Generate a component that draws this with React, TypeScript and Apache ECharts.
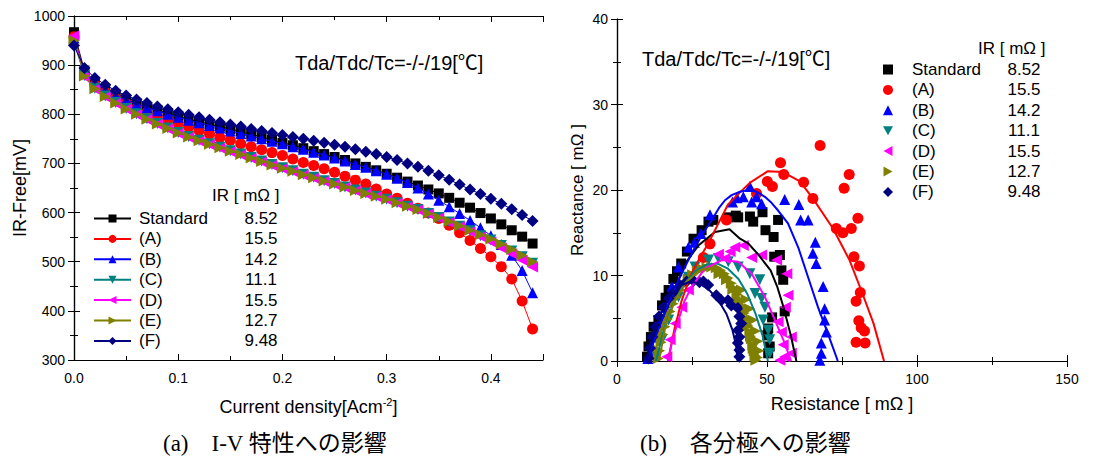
import React, { useEffect, useRef } from "react";
import * as echarts from "echarts";

// ---------- data: (a) I-V ----------
const currentDensity = [
  0, 0.01, 0.02, 0.03, 0.04, 0.05, 0.06, 0.07, 0.08, 0.09,
  0.1, 0.11, 0.12, 0.13, 0.14, 0.15, 0.16, 0.17, 0.18, 0.19,
  0.2, 0.21, 0.22, 0.23, 0.24, 0.25, 0.26, 0.27, 0.28, 0.29,
  0.3, 0.31, 0.32, 0.33, 0.34, 0.35, 0.36, 0.37, 0.38, 0.39,
  0.4, 0.41, 0.42, 0.43, 0.44,
];
const ivStandard = [967, 889, 866, 851, 840, 830, 822, 815, 808, 802, 796, 790, 785, 780, 775, 770, 765, 759, 754, 748, 742, 737, 731, 725, 719, 713, 707, 700, 693, 686, 679, 671, 663, 655, 647, 639, 630, 620, 610, 599, 588, 576, 564, 551, 537];
const ivA = [958, 884, 860, 845, 832, 822, 812, 804, 796, 788, 781, 774, 767, 760, 753, 747, 740, 734, 728, 722, 716, 709, 702, 696, 689, 682, 674, 666, 658, 648, 638, 629, 619, 609, 599, 588, 574, 559, 543, 527, 510, 490, 465, 420, 363];
const ivB = [955, 886, 864, 850, 838, 829, 821, 814, 807, 800, 794, 788, 783, 777, 772, 766, 761, 756, 750, 745, 740, 734, 729, 723, 717, 711, 705, 698, 692, 685, 678, 670, 661, 650, 638, 625, 612, 598, 584, 569, 553, 535, 513, 482, 437];
const ivC = [945, 879, 853, 837, 824, 812, 801, 791, 781, 772, 763, 755, 747, 740, 733, 726, 719, 712, 705, 698, 691, 685, 678, 672, 665, 659, 652, 646, 640, 633, 627, 620, 613, 606, 598, 590, 581, 572, 563, 553, 544, 533, 522, 510, 497];
const ivD = [960, 876, 851, 835, 822, 810, 799, 789, 779, 770, 761, 753, 745, 738, 731, 724, 717, 710, 703, 696, 689, 683, 676, 670, 663, 657, 651, 644, 638, 632, 626, 619, 612, 605, 597, 589, 580, 571, 561, 551, 540, 528, 516, 503, 489];
const ivE = [950, 878, 852, 836, 823, 811, 800, 790, 780, 771, 762, 754, 746, 739, 732, 725, 718, 711, 704, 697, 690, 684, 677, 671, 664, 658, 652, 645, 639, 633, 627, 620, 613, 606, 598, 590, 582, 573, 564, 555, 546, 536, 525, 513, 500];
const ivF = [940, 894, 874, 860, 848, 838, 830, 823, 816, 810, 804, 799, 794, 789, 784, 779, 775, 770, 766, 762, 758, 754, 750, 746, 742, 738, 734, 729, 724, 719, 713, 707, 700, 693, 685, 676, 667, 657, 647, 638, 628, 618, 607, 595, 583];

const sampleNames = ["Standard", "(A)", "(B)", "(C)", "(D)", "(E)", "(F)"];
const irValues = ["8.52", "15.5", "14.2", "11.1", "15.5", "12.7", "9.48"];

// ---------- data: (b) Nyquist [resistance mΩ, reactance mΩ] ----------
const nyStandard = [[10, 0.5], [10.5, 1.7], [11.3, 2.8], [12.2, 4], [13.8, 4.8], [15, 6.5], [16.2, 7.4], [17.2, 8.3], [18.8, 9.6], [20, 10.5], [21.4, 11.4], [23.3, 12.8], [25.5, 14.3], [28.2, 15.3], [30.5, 16.3], [32.1, 16.5], [37.1, 16.8], [39.6, 17], [40.4, 16.8], [44.3, 16.9], [45.4, 16.3], [48.5, 17.4], [49.5, 15.3], [52.2, 14.5], [53.7, 16.5], [52.4, 12.2], [54.3, 12.4], [54.8, 10.6], [55.4, 9.5], [55.9, 5.8], [51.7, 5.1], [50.4, 3.8], [50.1, 3], [50.9, 1.7], [50.4, 0.9]];
const nyA = [[28.8, 12.1], [31, 13.7], [36.5, 16.5], [46.5, 19.6], [50.1, 21], [51.8, 20.4], [54.5, 23.2], [55.6, 21.8], [62.2, 20.9], [65.3, 19], [67.7, 25.2], [73.1, 15.5], [75.3, 15], [75.7, 20.2], [77.4, 21.8], [78.1, 15.5], [79, 12.2], [80.3, 16.7], [80.8, 11.1], [81.1, 8], [79.7, 7], [80.6, 4.7], [81.4, 3.9], [82.5, 3.5], [79.7, 2.2], [82.7, 2.1]];
const nyB = [[10.3, 0.3], [11.1, 0.9], [12.7, 2.8], [14.4, 4.8], [16.1, 6.3], [18.3, 8.7], [20.5, 11], [23.8, 13.3], [25.8, 13.9], [28, 14.9], [31, 17.1], [38.5, 18.6], [40, 19.1], [42.1, 19.2], [44.3, 20.4], [46.5, 19.2], [44.9, 18.6], [48.2, 18.4], [55.9, 18.9], [60.6, 18.3], [61.2, 16.5], [63.7, 16.5], [66.1, 13.9], [65.3, 12.6], [66.4, 11.4], [68.7, 8.7], [69.2, 6.1], [69.2, 4.8], [69.8, 3.4], [68.1, 2.1], [68.1, 0.9], [67.6, 0.1]];
const nyC = [[13.3, 0.5], [15, 2.5], [17.2, 4.8], [20.5, 7.5], [23.8, 9.8], [26, 11], [30.5, 11.8], [33.8, 12], [37.1, 11.6], [40.4, 11], [44.3, 10.2], [47.6, 9.5], [46, 7.9], [48.2, 7.3], [49.3, 6.3], [48.7, 4.8], [50.4, 3.6], [50.9, 2.5], [50.9, 0.9]];
const nyD = [[16.6, 0.5], [17.7, 2.5], [19.4, 4.4], [21.6, 6.3], [23.8, 8.3], [33.8, 12.5], [36, 12], [37.7, 12.8], [39.3, 13.3], [42.1, 13.5], [44.9, 12.1], [48.2, 12.4], [53.2, 11.8], [56.6, 10.2], [57, 7.7], [56.1, 6.3], [53.7, 4.6], [54.8, 3.4], [58.1, 2.8], [55.4, 1.9], [58.1, 0.9], [55.9, 0.5], [54.3, 0.1]];
const nyE = [[13.8, 0.3], [14.2, 1.2], [14.7, 2.2], [15.3, 3.1], [16, 4], [16.8, 4.9], [17.7, 5.8], [18.7, 6.7], [19.8, 7.5], [21, 8.3], [22.3, 9], [23.7, 9.6], [25.2, 10.1], [26.8, 10.5], [28.4, 10.8], [30, 10.9], [31.6, 11], [33.1, 10.9], [34.5, 10.6], [35.8, 10.2], [37, 9.7], [38.1, 9.1], [39.1, 8.5], [40, 7.8], [40.9, 7.1], [41.7, 6.4], [42.4, 5.6], [43.1, 4.9], [43.7, 4.1], [44.3, 3.4], [44.8, 2.6], [45.3, 1.9], [45.7, 1.2], [46, 0.6], [46.3, 0.1], [34, 10.2], [36.5, 9.5], [38.6, 8.4], [40.4, 7.2], [42, 5.8], [43.3, 4.3], [44.5, 2.9], [45.4, 1.5], [46.8, 0.4], [47.3, 1.2], [46.9, 2.3], [46.2, 3.5], [45.3, 4.8], [44.2, 6.1], [43, 7.2], [41.5, 8.3]];
const nyF = [[10.5, 0.3], [11, 1.5], [11.8, 2.8], [12.8, 4], [14, 5.2], [15.5, 6.3], [17.2, 7.3], [19, 8.1], [21, 8.8], [23.2, 9.3], [25.5, 9.4], [27.5, 9.2], [28.8, 9.3], [30.4, 8.9], [33.1, 7.7], [34.8, 7.1], [37, 7.1], [38.1, 6.5], [40.3, 6.2], [40.8, 5.2], [41.4, 4.4], [40.3, 3.6], [40.8, 2.8], [40.3, 2.1], [40.8, 1.3], [40.8, 0.5]];

const fitStandard = [[10, 0], [13.8, 4], [18.3, 7.5], [22.7, 11.4], [27.1, 13.5], [32.7, 15.1], [37.5, 15.4], [41, 14.3], [43.6, 13.8], [47, 12.5], [51.2, 10.6], [53.5, 8.6], [55.5, 6.3], [57.8, 3.2], [59.8, 0]];
const fitA = [[17, 0], [19, 3.5], [21.5, 7], [24.5, 10], [27.5, 12], [30.5, 13.8], [33.8, 16.1], [37, 18.3], [41.5, 19.9], [44.5, 20.9], [50.3, 22.2], [55.3, 22.1], [61, 21], [65.5, 18.9], [72, 15.5], [77.5, 11.8], [81.6, 8.1], [85.5, 4.4], [89, 0]];
const fitB = [[10, 0], [12.5, 2.5], [15, 4.8], [17.8, 7.2], [20.5, 9.5], [23.5, 11.6], [26, 13.3], [28.8, 15], [31.6, 16.5], [34, 17.9], [36, 18.8], [38.2, 19.4], [41, 19.8], [43.7, 20], [46.5, 19.8], [49.3, 19.2], [51.5, 18.5], [53.7, 17.6], [57, 16.1], [60.4, 13.3], [63.7, 9.8], [67, 6.3], [70.3, 3.2], [73.6, 0]];
const fitC = [[13, 0], [15.5, 3.5], [18.5, 6.5], [22, 8.8], [26, 10.5], [30, 11.3], [33.5, 11.4], [37, 10.8], [40.5, 9.6], [43.5, 7.8], [46.2, 5.5], [48.5, 3], [50.3, 0]];
const fitD = [[17, 0], [18.5, 2.5], [20.5, 4.8], [22.5, 7], [24.9, 8.7], [29.3, 10.8], [34.9, 11.8], [40.4, 11.6], [44.9, 10.2], [49.3, 7.5], [52.6, 4.8], [55.9, 2.1], [58, 0]];
const fitE = [[14, 0], [16, 3.8], [19, 6.8], [23, 9.2], [27.5, 10.6], [32.5, 11], [36.5, 10], [40, 8], [43, 5.5], [45.3, 3], [46.8, 1], [47.2, 0]];
const fitF = [[10, 0], [12, 3], [14.5, 5.5], [17.5, 7.5], [21, 8.8], [24.5, 9.3], [28, 9], [31, 8.2], [34, 7], [36.5, 5.5], [38.5, 3.6], [39.7, 1.8], [40.2, 0]];

// ---------- styles ----------
const colors = ["#000000", "#ff0000", "#0000ff", "#008080", "#ff00ff", "#808000", "#000080"];
const symbols = [
  "rect",
  "circle",
  "triangle",
  "path://M0,0L10,0L5,9Z",
  "path://M9,0L9,10L0,5Z",
  "path://M0,0L9,5L0,10Z",
  "diamond",
];
const symbolSizes = [10, 11, 11, 11, 11, 11, 12];
const SANS = "'Liberation Sans', Arial, 'Noto Sans CJK JP', sans-serif";
const CJK = "'Liberation Sans', 'Noto Sans CJK JP', sans-serif";

export default function App() {
  const ref = useRef<HTMLDivElement>(null);
  useEffect(() => {
    if (!ref.current) return;
    document.body.style.margin = "0";
    const chart = echarts.init(ref.current, undefined, { renderer: "svg" });
    const ivSets = [ivStandard, ivA, ivB, ivC, ivD, ivE, ivF];
    const nySets = [nyStandard, nyA, nyB, nyC, nyD, nyE, nyF];
    const fitSets = [fitStandard, fitA, fitB, fitC, fitD, fitE, fitF];

    const axisCommon = {
      axisLine: { lineStyle: { color: "#000", width: 1.2 } },
      axisTick: { inside: true, length: 6, lineStyle: { color: "#000" } },
      minorTick: { show: true, splitNumber: 2, length: 4, lineStyle: { color: "#000" } },
      splitLine: { show: false },
      minorSplitLine: { show: false },
      axisLabel: { color: "#000", fontSize: 14, fontFamily: SANS, margin: 9 },
      nameTextStyle: { color: "#000", fontSize: 17, fontFamily: CJK },
    };
    const mirror = {
      axisLine: { lineStyle: { color: "#000", width: 1.2 } },
      axisTick: { inside: true, length: 6, lineStyle: { color: "#000" } },
      minorTick: { show: true, splitNumber: 2, length: 4, lineStyle: { color: "#000" } },
      splitLine: { show: false },
      axisLabel: { show: false },
    };

    const series: any[] = [];
    ivSets.forEach((arr, i) => {
      series.push({
        name: sampleNames[i],
        type: "line",
        xAxisIndex: 0,
        yAxisIndex: 0,
        data: currentDensity.map((x, k) => [x, arr[k]]),
        symbol: symbols[i],
        symbolSize: symbolSizes[i],
        itemStyle: { color: colors[i] },
        lineStyle: { color: colors[i], width: 1 },
        z: 2 + i,
      });
    });
    nySets.forEach((arr, i) => {
      series.push({
        name: "N" + sampleNames[i],
        type: "scatter",
        xAxisIndex: 2,
        yAxisIndex: 2,
        data: arr,
        symbol: symbols[i],
        symbolSize: symbolSizes[i],
        itemStyle: { color: colors[i], opacity: 1 },
        z: 2 + i,
      });
    });
    fitSets.forEach((arr, i) => {
      series.push({
        name: "fit" + sampleNames[i],
        type: "line",
        xAxisIndex: 2,
        yAxisIndex: 2,
        data: arr,
        showSymbol: false,
        symbol: "none",
        lineStyle: { color: colors[i], width: 2 },
        z: 10 + i,
      });
    });

    const legendRich = (nw: number, vw: number, pad: number) => ({
      n: { width: nw, fontSize: 17, fontFamily: SANS, color: "#000", padding: [0, 0, 0, pad] },
      v: { width: vw, fontSize: 17, fontFamily: SANS, color: "#000", align: "center" },
    });

    chart.setOption({
      animation: false,
      backgroundColor: "#fff",
      grid: [
        { left: 74, top: 16, width: 469, height: 344 },
        { left: 617, top: 19, width: 450, height: 342 },
      ],
      xAxis: [
        {
          ...axisCommon,
          gridIndex: 0,
          type: "value",
          min: 0,
          max: 0.45,
          interval: 0.1,
          axisLabel: { ...axisCommon.axisLabel, margin: 11, formatter: (v: number) => v.toFixed(1), showMaxLabel: false },
          name: "{t|Current density[Acm}{s|-2}{t|]}",
          nameLocation: "middle",
          nameGap: 36,
          nameTextStyle: {
            rich: {
              t: { fontSize: 18, fontFamily: SANS, color: "#000", lineHeight: 22 },
              s: { fontSize: 11, fontFamily: SANS, color: "#000", lineHeight: 22, verticalAlign: "top" },
            },
          },
        },
        { ...mirror, gridIndex: 0, type: "value", position: "top", min: 0, max: 0.45, interval: 0.1 },
        {
          ...axisCommon,
          gridIndex: 1,
          type: "value",
          min: 0,
          max: 150,
          interval: 50,
          axisLabel: { ...axisCommon.axisLabel, margin: 11 },
          name: "Resistance [ mΩ ]",
          nameLocation: "middle",
          nameGap: 34,
          nameTextStyle: { color: "#000", fontSize: 18, fontFamily: CJK },
        },
        { ...mirror, gridIndex: 1, type: "value", position: "top", min: 0, max: 150, interval: 50 },
      ],
      yAxis: [
        {
          ...axisCommon,
          gridIndex: 0,
          type: "value",
          min: 300,
          max: 1000,
          interval: 100,
          axisLabel: { ...axisCommon.axisLabel, formatter: (v: number) => String(v) },
          name: "IR-Free[mV]",
          nameLocation: "middle",
          nameGap: 45,
          nameTextStyle: { color: "#000", fontSize: 18, fontFamily: CJK },
        },
        { ...mirror, gridIndex: 0, type: "value", position: "right", min: 300, max: 1000, interval: 100 },
        {
          ...axisCommon,
          gridIndex: 1,
          type: "value",
          min: 0,
          max: 40,
          interval: 10,
          name: "Reactance [ mΩ ]",
          nameLocation: "middle",
          nameGap: 31,
          nameTextStyle: { color: "#000", fontSize: 17, fontFamily: CJK },
        },
        { ...mirror, gridIndex: 1, type: "value", position: "right", min: 0, max: 40, interval: 10 },
      ],
      legend: [
        {
          orient: "vertical",
          left: 88,
          top: 205,
          itemWidth: 37,
          itemHeight: 10,
          itemGap: 3.4,
          selectedMode: false,
          data: sampleNames,
          formatter: (name: string) => {
            const i = sampleNames.indexOf(name);
            return `{n|${name}}{v|${irValues[i]}}`;
          },
          textStyle: { rich: legendRich(97, 50, 3) },
        },
        {
          orient: "vertical",
          left: 878,
          top: 56,
          itemWidth: 10,
          itemHeight: 10,
          itemGap: 3.4,
          selectedMode: false,
          data: sampleNames.map((n) => "N" + n),
          formatter: (name: string) => {
            const i = sampleNames.indexOf(name.slice(1));
            return `{n|${sampleNames[i]}}{v|${irValues[i]}}`;
          },
          textStyle: { rich: legendRich(94, 36, 14) },
        },
      ],
      graphic: [
        { type: "text", left: 212, top: 187, style: { text: "IR [ mΩ ]", fontSize: 17, fontFamily: CJK, fill: "#000" } },
        { type: "text", left: 978, top: 40, style: { text: "IR [ mΩ ]", fontSize: 17, fontFamily: CJK, fill: "#000" } },
        { type: "text", left: 295, top: 53, style: { text: "Tda/Tdc/Tc=-/-/19[℃]", fontSize: 20, fontFamily: CJK, fill: "#000" } },
        { type: "text", left: 642, top: 49, style: { text: "Tda/Tdc/Tc=-/-/19[℃]", fontSize: 20, fontFamily: CJK, fill: "#000" } },
        {
          type: "text",
          left: 163,
          top: 432,
          style: { text: "(a)　I-V 特性への影響", fontSize: 23, fontFamily: "'Liberation Serif', 'Noto Sans CJK JP', serif", fill: "#000" },
        },
        {
          type: "text",
          left: 640,
          top: 432,
          style: { text: "(b)　各分極への影響", fontSize: 23, fontFamily: "'Liberation Serif', 'Noto Sans CJK JP', serif", fill: "#000" },
        },
      ],
      series,
    });
    return () => chart.dispose();
  }, []);
  return <div ref={ref} style={{ position: "fixed", left: 0, top: 0, width: 1099, height: 464 }} />;
}
